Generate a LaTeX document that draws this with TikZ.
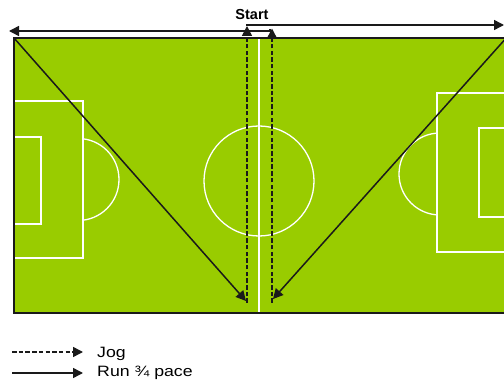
\documentclass[tikz,border=0pt]{standalone}
\usepackage{fontspec}
\setmainfont{Liberation Sans}
\usetikzlibrary{arrows.meta}
\definecolor{pitch}{HTML}{99CC00}
\definecolor{edge}{HTML}{1A1A1A}
\begin{document}
\begin{tikzpicture}[x=1pt,y=-1pt,
  wl/.style={white, line width=1.3pt},
  bl/.style={edge, line width=1.5pt},
  arr/.style={bl, -{Triangle[length=10pt,width=10pt]}},
  jog/.style={arr, dash pattern=on 4.5pt off 2.2pt},
  lbl/.style={font=\fontsize{15}{17}\selectfont, inner sep=0pt, anchor=base west, xscale=1.18},
]
\useasboundingbox (0,0) rectangle (504,382);
\begin{scope}
\clip (0,0) rectangle (504,382);
% pitch
\fill[pitch] (14,38) rectangle (510,313);
\draw[wl] (259,38) -- (259,313);
\draw[wl] (259,181) circle (55);
% left end
\draw[wl] (14,101) rectangle (83,258);
\draw[wl] (14,137) rectangle (41,224);
\begin{scope}
\clip (83,0) rectangle (504,382);
\draw[wl] (78,179.5) circle (41);
\end{scope}
% right end
\draw[wl] (437,93) rectangle (510,252);
\draw[wl] (479,128) rectangle (510,217);
\begin{scope}
\clip (0,0) rectangle (437,382);
\draw[wl] (440,174) circle (41);
\end{scope}
% border
\draw[bl] (510,38) -- (14,38) -- (14,313) -- (510,313);
% runs
\coordinate (tl) at (14,38);
\coordinate (tr) at (508,36);
\coordinate (lb) at (246,301);
\coordinate (rb) at (273,299);
\draw[arr] (tl) -- (lb);
\draw[arr] (tr) -- (rb);
% jogs
\coordinate (d1b) at (247,303);
\coordinate (d1t) at (247,26);
\coordinate (d2b) at (272,303);
\coordinate (d2t) at (272,28.5);
\draw[jog] (d1b) -- (d1t);
\draw[jog] (d2b) -- (d2t);
\coordinate (e1) at (504,25);
\coordinate (e2) at (9,31);
\coordinate (c2) at (270,29);
\draw[arr] (d1t) |- (e1);
\draw[arr] (c2) |- (e2);
\end{scope}
\node[font=\bfseries\fontsize{14.5}{16}\selectfont, inner sep=0pt, anchor=base] (start) at (252,20) {Start};
% legend
\coordinate (j1) at (12,352);
\coordinate (j2) at (83,352);
\coordinate (r1) at (12,373);
\coordinate (r2) at (83,373);
\draw[jog] (j1) -- (j2);
\draw[arr] (r1) -- (r2);
\node[lbl] (jog) at (97,357.5) {Jog};
\node[lbl] (run) at (97,376.7) {Run ¾ pace};
\end{tikzpicture}
\end{document}
